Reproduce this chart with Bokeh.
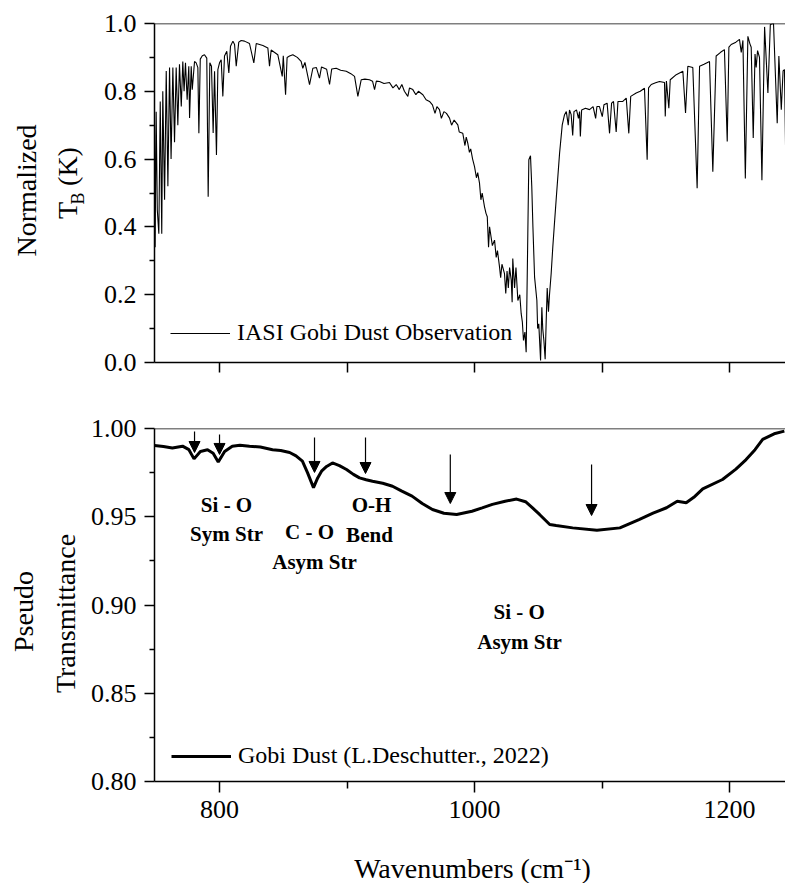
import math
from bokeh.plotting import figure
from bokeh.layouts import column, row
from bokeh.models import (Range1d, FixedTicker, PrintfTickFormatter, Span, Label,
                          Legend, LegendItem, Arrow, NormalHead, CustomJSTickFormatter)
from bokeh.embed import file_html
from bokeh.resources import INLINE

# ---------------- data ----------------
# IASI Gobi dust observation (normalized brightness temperature)
iasi_wn = [749.0, 749.5, 750.3, 751.2, 752.4, 753.5, 754.7, 755.5, 756.9, 758.2, 759.5, 760.8,
           762.0, 763.4, 764.7, 766.0, 767.3, 768.6, 770.0, 771.2, 772.2, 773.3, 774.6, 775.9,
           776.5, 777.8, 778.6, 780.4, 781.7, 783.0, 783.8, 784.9, 786.5, 788.2, 790.0, 791.1,
           792.4, 793.7, 795.0, 796.1, 797.6, 798.7, 800.0, 801.3, 802.6, 803.9, 805.7, 807.3,
           808.6, 810.5, 811.8, 813.1, 815.1, 817.0, 819.6, 823.5, 826.9, 828.8, 834.0, 837.9,
           839.2, 840.5, 845.7, 849.2, 850.0, 851.8, 853.0, 854.9, 857.5, 861.0, 864.0, 865.3,
           867.0, 870.6, 873.2, 876.0, 878.4, 880.0, 884.0, 886.3, 888.0, 891.5, 895.0, 899.4,
           903.0, 905.9, 908.5, 911.1, 914.0, 917.6, 920.0, 921.6, 923.0, 925.5, 929.0, 933.3,
           936.0, 938.6, 941.0, 943.0, 945.0, 947.7, 949.0, 951.6, 954.0, 956.0, 959.5, 962.0,
           964.7, 967.0, 969.0, 970.5, 972.5, 974.0, 976.0, 978.0, 980.4, 982.0, 984.0, 986.9,
           988.0, 990.8, 992.5, 993.5, 994.7, 996.0, 997.0, 998.5, 1000.0, 1001.5, 1002.5, 1003.9,
           1005.0, 1006.0, 1007.8, 1009.0, 1010.0, 1011.0, 1011.8, 1013.0, 1014.0, 1015.7, 1017.0,
           1018.0, 1019.6, 1020.5, 1021.5, 1023.5, 1024.5, 1025.5, 1026.5, 1027.5, 1028.8, 1029.5,
           1030.0, 1031.4, 1032.5, 1034.0, 1035.5, 1036.6, 1037.5, 1038.4, 1039.5, 1040.5, 1041.8,
           1042.6, 1043.9, 1044.9, 1045.8, 1047.1, 1048.9, 1049.5, 1050.4, 1051.8, 1052.8, 1053.5,
           1054.4, 1055.4, 1056.2, 1057.0, 1058.0, 1058.8, 1060.1, 1061.4, 1062.5, 1064.0, 1066.7,
           1068.8, 1070.6, 1072.0, 1073.5, 1074.5, 1075.8, 1077.0, 1078.0, 1080.0, 1081.5, 1082.4,
           1083.0, 1084.0, 1087.0, 1090.2, 1093.0, 1095.0, 1096.0, 1098.0, 1100.2, 1101.5, 1104.0,
           1105.9, 1107.5, 1109.0, 1111.1, 1112.5, 1116.3, 1119.0, 1121.0, 1122.5, 1126.8, 1130.0,
           1133.3, 1135.4, 1136.5, 1138.6, 1142.0, 1145.1, 1149.0, 1149.6, 1150.5, 1152.4, 1153.5,
           1158.2, 1163.4, 1165.5, 1167.3, 1171.2, 1174.6, 1176.5, 1180.0, 1184.3, 1186.9, 1189.5,
           1193.0, 1196.0, 1198.2, 1199.5, 1201.3, 1205.0, 1207.8, 1209.2, 1210.5, 1212.4, 1214.4,
           1216.0, 1217.0, 1218.6, 1220.0, 1220.9, 1222.0, 1223.5, 1225.4, 1227.5, 1230.1, 1232.0,
           1234.5, 1237.4, 1238.7, 1240.6, 1242.0, 1243.1, 1244.4]
iasi_tb = [0.70, 0.34, 0.74, 0.45, 0.38, 0.77, 0.38, 0.80, 0.48, 0.86, 0.52, 0.87,
           0.60, 0.87, 0.65, 0.87, 0.70, 0.88, 0.755, 0.888, 0.80, 0.884, 0.775, 0.874,
           0.721, 0.874, 0.805, 0.888, 0.884, 0.87, 0.676, 0.895, 0.905, 0.908, 0.898, 0.489,
           0.884, 0.874, 0.677, 0.859, 0.612, 0.864, 0.884, 0.893, 0.785, 0.904, 0.918, 0.854,
           0.933, 0.948, 0.938, 0.874, 0.945, 0.95, 0.948, 0.941, 0.884, 0.941, 0.935, 0.928,
           0.874, 0.922, 0.908, 0.844, 0.905, 0.790, 0.90, 0.904, 0.908, 0.90, 0.888, 0.868,
           0.885, 0.820, 0.868, 0.87, 0.839, 0.872, 0.865, 0.82, 0.866, 0.868, 0.862, 0.859,
           0.852, 0.844, 0.785, 0.834, 0.836, 0.834, 0.83, 0.805, 0.83, 0.829, 0.823, 0.826,
           0.81, 0.82, 0.805, 0.82, 0.80, 0.785, 0.81, 0.805, 0.79, 0.80, 0.79, 0.775,
           0.77, 0.76, 0.735, 0.755, 0.746, 0.72, 0.74, 0.735, 0.721, 0.70, 0.715, 0.701,
           0.68, 0.676, 0.64, 0.665, 0.647, 0.62, 0.63, 0.60, 0.578, 0.545, 0.56, 0.529,
           0.48, 0.50, 0.46, 0.44, 0.43, 0.34, 0.40, 0.37, 0.345, 0.361, 0.31,
           0.33, 0.282, 0.25, 0.29, 0.262, 0.204, 0.27, 0.22, 0.28, 0.243, 0.178,
           0.307, 0.22, 0.28, 0.183, 0.20, 0.144, 0.12, 0.065, 0.09, 0.030, 0.38,
           0.598, 0.610, 0.52, 0.40, 0.252, 0.183, 0.10, 0.114, 0.006, 0.163, 0.10,
           0.065, 0.01, 0.12, 0.22, 0.15, 0.20, 0.262, 0.341, 0.40, 0.479, 0.617,
           0.701, 0.731, 0.74, 0.70, 0.745, 0.731, 0.67, 0.74, 0.745, 0.72, 0.74,
           0.667, 0.745, 0.75, 0.746, 0.755, 0.72, 0.755, 0.755, 0.725, 0.76, 0.765,
           0.676, 0.765, 0.77, 0.68, 0.77, 0.770, 0.78, 0.676, 0.785, 0.795, 0.80,
           0.809, 0.598, 0.81, 0.82, 0.825, 0.829, 0.826, 0.726, 0.83, 0.75, 0.834,
           0.849, 0.859, 0.736, 0.874, 0.87, 0.514, 0.874, 0.88, 0.888, 0.563, 0.904,
           0.915, 0.923, 0.652, 0.93, 0.938, 0.945, 0.953, 0.915, 0.95, 0.543, 0.962,
           0.94, 0.93, 0.662, 0.91, 0.87, 0.92, 0.90, 0.538, 0.990, 0.795, 0.997,
           1.00, 0.706, 0.904, 0.746, 0.86, 0.864, 0.514]

# Gobi dust pseudo transmittance (L.Deschutter, 2022)
gobi_wn = [749.0, 756.0, 763.0, 771.0, 776.0, 780.0, 785.0, 790.6, 795.0, 799.0, 804.0, 810.0,
           816.0, 823.5, 832.0, 841.6, 848.0, 855.0, 860.0, 865.0, 869.0, 873.7, 877.0, 880.0,
           884.0, 888.6, 894.0, 899.6, 905.0, 909.8, 915.0, 920.0, 928.0, 935.7, 943.0, 951.0,
           959.0, 967.0, 976.0, 986.0, 998.0, 1006.0, 1014.0, 1024.0, 1033.0, 1040.0, 1045.5,
           1051.0, 1059.0, 1064.0, 1077.0, 1096.0, 1114.0, 1129.0, 1140.0, 1150.6, 1159.0,
           1166.0, 1172.0, 1179.0, 1194.5, 1205.0, 1213.0, 1220.0, 1226.0, 1235.0, 1243.0]
gobi_tr = [0.9904, 0.9898, 0.9890, 0.9900, 0.9880, 0.9828, 0.9870, 0.9880, 0.9860, 0.9810, 0.9870, 0.9900,
           0.9905, 0.9900, 0.9895, 0.9880, 0.9875, 0.9864, 0.9845, 0.9815, 0.9750, 0.9665, 0.9720, 0.9758,
           0.9785, 0.9805, 0.9790, 0.9768, 0.9740, 0.9720, 0.9710, 0.9701, 0.9690, 0.9673, 0.9645, 0.9617,
           0.9575, 0.9541, 0.9520, 0.9513, 0.9531, 0.9550, 0.9570, 0.9588, 0.9600, 0.9585, 0.9550,
           0.9513, 0.9456, 0.9450, 0.9437, 0.9424, 0.9437, 0.9484, 0.9520, 0.9551, 0.9588,
           0.9579, 0.9610, 0.9658, 0.9711, 0.9770, 0.9824, 0.9880, 0.9938, 0.9970, 0.9985]

x_ticks_top = [800, 900, 1000, 1100, 1200]
x_ticks_bottom = [800, 1000, 1200]
x_minor_bottom = [900, 1100]
y_ticks_top = [0.0, 0.2, 0.4, 0.6, 0.8, 1.0]
y_minor_top = [0.1, 0.3, 0.5, 0.7, 0.9]
y_ticks_bottom = [0.80, 0.85, 0.90, 0.95, 1.00]
y_minor_bottom = [0.825, 0.875, 0.925, 0.975]

# arrows: wavenumber, start value, end value
arrow_wn = [780.4, 800.0, 874.5, 914.5, 981.0, 1091.8]
arrow_top = [0.9983, 0.9966, 0.9949, 0.9949, 0.9853, 0.9796]
arrow_tip = [0.9864, 0.9853, 0.9751, 0.9745, 0.9575, 0.9507]

band_text = ["Si - O", "Sym Str", "C - O", "Asym Str", "O-H", "Bend", "Si - O", "Asym Str"]
band_wn = [805.5, 805.5, 870.6, 874.5, 919.2, 917.6, 1035.0, 1035.3]
band_val = [0.9569, 0.9400, 0.9411, 0.9241, 0.9564, 0.9394, 0.8958, 0.8788]

FONT = "Liberation Serif"
STRIP_W = 86
FRAME_W = 631
BOTTOM_BORDER = 52
xr = Range1d(749, 749 + FRAME_W / 1.275)


def style_axes(p):
    for ax in (p.xaxis[0], p.yaxis[0]):
        ax.axis_line_width = 1.5
        ax.axis_line_color = "black"
        ax.major_tick_line_color = "black"
        ax.major_tick_line_width = 1.5
        ax.minor_tick_line_color = "black"
        ax.minor_tick_line_width = 1.5
        ax.major_tick_in = 0
        ax.major_tick_out = 10
        ax.minor_tick_in = 0
        ax.minor_tick_out = 5
        ax.major_label_text_font = FONT
        ax.major_label_text_font_size = "26px"
        ax.major_label_text_color = "black"
        ax.major_label_standoff = 8
    p.xgrid.visible = False
    p.ygrid.visible = False
    p.outline_line_color = None
    p.background_fill_color = "white"
    p.border_fill_color = "white"


# ---------------- top panel ----------------
p1 = figure(frame_width=FRAME_W, frame_height=339, min_border_left=154 - STRIP_W,
            min_border_right=0, min_border_top=23, min_border_bottom=33, x_range=xr,
            y_range=Range1d(0, 1.0), output_backend="svg", toolbar_location=None)
r1 = p1.line(iasi_wn, iasi_tb, line_color="black", line_width=1.1)
style_axes(p1)
p1.xaxis.ticker = FixedTicker(ticks=x_ticks_top, minor_ticks=[])
p1.xaxis.formatter = CustomJSTickFormatter(code="return ''")
p1.xaxis.major_label_standoff = 0
p1.yaxis.ticker = FixedTicker(ticks=y_ticks_top, minor_ticks=y_minor_top)
p1.yaxis.formatter = PrintfTickFormatter(format="%.1f")
p1.add_layout(Span(location=1.0, dimension="width", line_color="black", line_width=1.5))

leg1 = Legend(items=[LegendItem(label="IASI Gobi Dust Observation", renderers=[r1])],
              location=(16, 16), glyph_width=60, glyph_height=20, label_standoff=7,
              padding=0, margin=0, spacing=0, border_line_color=None,
              background_fill_alpha=0, label_text_font=FONT, label_text_font_size="24px",
              label_text_color="black")
p1.add_layout(leg1)

# ---------------- bottom panel ----------------
p2 = figure(frame_width=FRAME_W, frame_height=353, min_border_left=154 - STRIP_W,
            min_border_right=0, min_border_top=33, min_border_bottom=BOTTOM_BORDER, x_range=xr,
            y_range=Range1d(0.80, 1.00), output_backend="svg", toolbar_location=None)
r2 = p2.line(gobi_wn, gobi_tr, line_color="black", line_width=3)
style_axes(p2)
p2.xaxis.ticker = FixedTicker(ticks=x_ticks_bottom, minor_ticks=x_minor_bottom)
p2.xaxis.major_tick_out = 11
p2.xaxis.minor_tick_out = 7
p2.yaxis.ticker = FixedTicker(ticks=y_ticks_bottom, minor_ticks=y_minor_bottom)
p2.yaxis.formatter = PrintfTickFormatter(format="%.2f")
p2.add_layout(Span(location=1.0, dimension="width", line_color="black", line_width=1.5))

leg2 = Legend(items=[LegendItem(label="Gobi Dust (L.Deschutter., 2022)", renderers=[r2])],
              location=(17, 12), glyph_width=60, glyph_height=20, label_standoff=7,
              padding=0, margin=0, spacing=0, border_line_color=None,
              background_fill_alpha=0, label_text_font=FONT, label_text_font_size="24px",
              label_text_color="black")
p2.add_layout(leg2)

for wn, y0, y1 in zip(arrow_wn, arrow_top, arrow_tip):
    p2.add_layout(Arrow(x_start=wn, y_start=y0, x_end=wn, y_end=y1, line_color="black",
                        line_width=1.2,
                        end=NormalHead(size=11, fill_color="black", line_color="black",
                                       line_width=1)))

for t, wn, v in zip(band_text, band_wn, band_val):
    p2.add_layout(Label(x=wn, y=v, text=t, text_align="center", text_baseline="middle",
                        text_font=FONT, text_font_size="21px", text_font_style="bold",
                        text_color="black"))

# ---------------- left strip for the y-axis titles ----------------
PLOTS_H = 23 + 339 + 33 + 33 + 353 + BOTTOM_BORDER
LABEL_H = 883 - PLOTS_H
strip = figure(width=STRIP_W, height=PLOTS_H, x_range=Range1d(1, 1 + STRIP_W),
               y_range=Range1d(1 + PLOTS_H, 1), min_border=0, min_border_left=0,
               min_border_right=0, min_border_top=0, min_border_bottom=0,
               output_backend="svg", toolbar_location=None)
strip.axis.visible = False
strip.xgrid.visible = False
strip.ygrid.visible = False
strip.outline_line_color = None


def vlabel(x, y, text, size):
    strip.add_layout(Label(x=x, y=y, text=text, angle=math.pi / 2, text_align="center",
                           text_baseline="middle", text_font=FONT, text_font_size=size,
                           text_color="black"))


vlabel(27, 191, "Normalized", "28px")
vlabel(68, 211, "T", "28px")
vlabel(78, 199, "B", "18px")
vlabel(68, 167, "(K)", "28px")
vlabel(24, 612, "Pseudo", "28px")
vlabel(66, 614, "Transmittance", "28px")

# ---------------- bottom strip for the x-axis title ----------------
TOTAL_W = 154 + FRAME_W
bstrip = figure(width=TOTAL_W, height=LABEL_H, x_range=Range1d(1, 1 + TOTAL_W),
                y_range=Range1d(1 + PLOTS_H + LABEL_H, 1 + PLOTS_H), min_border=0,
                min_border_left=0, min_border_right=0, min_border_top=0, min_border_bottom=0,
                output_backend="svg", toolbar_location=None)
bstrip.axis.visible = False
bstrip.xgrid.visible = False
bstrip.ygrid.visible = False
bstrip.outline_line_color = None
bstrip.add_layout(Label(x=473, y=869, text="Wavenumbers (cm\u207b\u00b9)", text_align="center",
                        text_baseline="middle", text_font=FONT, text_font_size="28px",
                        text_color="black"))

layout = column(row(strip, column(p1, p2, spacing=0), spacing=0), bstrip, spacing=0)
open("out.html", "w").write(file_html(layout, INLINE))
